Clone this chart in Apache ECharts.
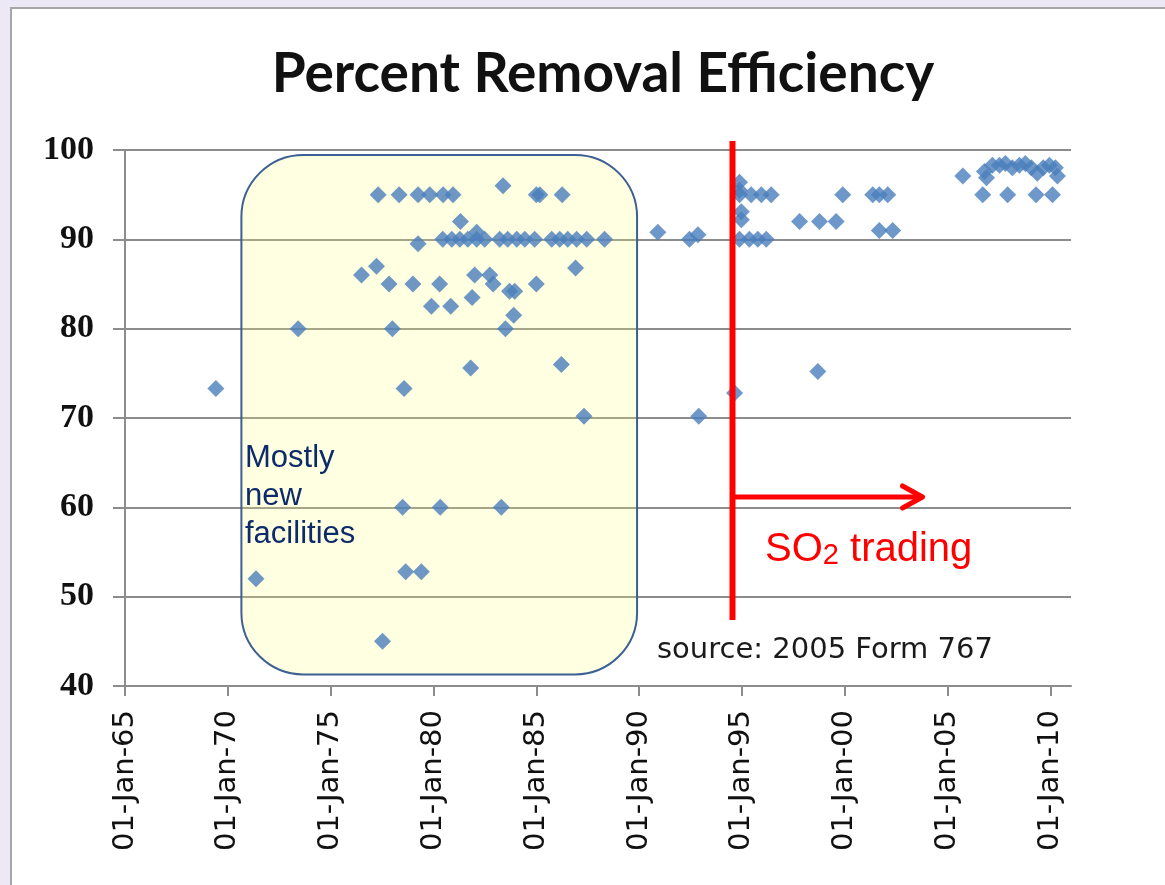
<!DOCTYPE html>
<html>
<head>
<meta charset="utf-8">
<title>Percent Removal Efficiency</title>
<script src="https://cdn.jsdelivr.net/npm/echarts@6/dist/echarts.min.js"></script>
<style>
  html, body { margin: 0; padding: 0; background: #ede8f5; }
  #main { width: 1165px; height: 885px; }
</style>
</head>
<body>
<div id="main"></div>
<script>
// install date as a decimal year, and % removal efficiency
var years = [
  1969.42, 1971.37, 1973.42, 1976.5, 1977.23, 1977.31, 1977.52, 1977.84, 1978.0, 1978.33,
  1978.5, 1978.57, 1978.65, 1979.0, 1979.25, 1979.25, 1979.41, 1979.82, 1979.9, 1980.33,
  1980.3, 1980.47, 1980.95, 1980.84, 1981.31, 1981.81, 1981.88, 1982.0, 1982.74, 1982.9,
  1983.38, 1983.3, 1983.5, 1983.7, 1983.95, 1983.9, 1985.0, 1985.17, 1985.0, 1986.26,
  1986.22, 1986.91, 1987.32,
  1980.45, 1980.89, 1981.28, 1981.67, 1982.1, 1982.49, 1983.22, 1983.61, 1984.05, 1984.44,
  1984.92, 1985.75, 1986.14, 1986.53, 1986.96, 1987.45, 1988.32, 1982.1,
  1990.91, 1992.45, 1992.86, 1992.9, 1994.64,
  1994.88, 1994.88, 1994.88, 1995.45, 1995.94, 1996.42, 1994.97, 1994.97,
  1994.88, 1995.36, 1995.77, 1996.18,
  1997.8, 1998.69, 1998.77, 1999.58, 1999.9, 2001.36, 2001.68, 2002.09, 2001.68, 2002.33,
  2005.74, 2006.71, 2007.92, 2009.3, 2010.1,
  2006.79, 2006.89, 2007.18, 2007.52, 2007.81, 2008.15, 2008.49, 2008.78, 2009.07, 2009.36,
  2009.65, 2009.95, 2010.24, 2010.34
];
var efficiency = [
  73.3, 52, 80, 86, 87, 95, 45, 85, 80, 95,
  60, 73.3, 52.8, 85, 95, 89.5, 52.8, 95, 82.5, 60,
  85, 95, 95, 82.5, 92, 75.6, 83.5, 86, 86, 85,
  96, 60, 80, 84.2, 84.2, 81.5, 95, 95, 85, 95,
  76, 86.8, 70.2,
  90, 90, 90, 90, 90, 90, 90, 90, 90, 90,
  90, 90, 90, 90, 90, 90, 90, 90.8,
  90.8, 90, 90.5, 70.2, 72.8,
  96.4, 95.5, 95, 95, 95, 95, 93.1, 92.2,
  90, 90, 90, 90,
  92, 75.2, 92, 92, 95, 95, 95, 95, 91, 91,
  97.1, 95, 95, 95, 95,
  97.6, 96.9, 98.3, 98.3, 98.5, 98, 98.3, 98.5, 98, 97.4,
  98, 98.3, 98, 97.1
];
var yearTicks = [1965, 1970, 1975, 1980, 1985, 1990, 1995, 2000, 2005, 2010];

var chart = echarts.init(document.getElementById('main'));

var points = years.map(function (y, i) { return [y, efficiency[i]]; });

var option = {
  backgroundColor: '#ede8f5',
  animation: false,
  title: {
    text: 'Percent Removal Efficiency',
    left: 598,
    textAlign: 'center',
    top: 42,
    textStyle: {
      fontFamily: 'Lato',
      fontWeight: 'bold',
      fontSize: 55,
      color: '#111'
    }
  },
  grid: {
    left: 125,
    right: 94,
    top: 150,
    bottom: 199
  },
  xAxis: {
    type: 'value',
    min: 1965,
    max: 2011,
    interval: 5,
    splitLine: { show: false },
    axisLine: { lineStyle: { color: '#8c8c8c', width: 2 } },
    axisTick: {
      length: 10,
      customValues: yearTicks,
      lineStyle: { color: '#8c8c8c', width: 2 }
    },
    axisLabel: {
      rotate: 90,
      margin: 24,
      customValues: yearTicks,
      fontFamily: 'DejaVu Sans',
      fontSize: 29,
      color: '#111',
      formatter: function (v) {
        return '01-Jan-' + String(v).slice(2);
      }
    }
  },
  yAxis: {
    type: 'value',
    min: 40,
    max: 100,
    interval: 10,
    axisLine: { show: true, lineStyle: { color: '#8c8c8c', width: 2 } },
    axisTick: { show: true, length: 12, lineStyle: { color: '#8c8c8c', width: 2 } },
    splitLine: { lineStyle: { color: '#8c8c8c', width: 2 } },
    axisLabel: {
      margin: 31,
      fontFamily: 'Liberation Serif',
      fontWeight: 'bold',
      fontSize: 34,
      color: '#111'
    }
  },
  series: [{
    type: 'scatter',
    symbol: 'diamond',
    symbolSize: 17,
    z: 5,
    itemStyle: { color: '#4a7ebb' },
    data: points
  }]
};
chart.setOption(option);

// annotations, placed in data space
function px(x, y) {
  return chart.convertToPixel({ seriesIndex: 0 }, [x, y]);
}
var boxA = px(1970.66, 99.44), boxB = px(1989.9, 41.3);
var lineTop = px(1994.54, 101), lineBot = px(1994.54, 47.4);
var arrowEnd = px(2003.78, 61.16);

chart.setOption({
  graphic: [
    {
      type: 'rect', z: -10, silent: true,
      shape: { x: 11, y: 8, width: 1180, height: 900 },
      style: { fill: '#fff', stroke: '#a6a6a6', lineWidth: 2 }
    },
    {
      type: 'rect', z: 1, silent: true,
      shape: { x: boxA[0], y: boxA[1], width: boxB[0] - boxA[0], height: boxB[1] - boxA[1], r: 62 },
      style: { fill: 'rgba(255,255,120,0.22)', stroke: '#3c5f94', lineWidth: 2 }
    },
    {
      type: 'line', z: 10, silent: true,
      shape: { x1: lineTop[0], y1: lineTop[1], x2: lineBot[0], y2: lineBot[1] },
      style: { stroke: '#ff0000', lineWidth: 6 }
    },
    {
      type: 'line', z: 10, silent: true,
      shape: { x1: lineTop[0], y1: arrowEnd[1], x2: arrowEnd[0] - 2, y2: arrowEnd[1] },
      style: { stroke: '#ff0000', lineWidth: 5 }
    },
    {
      type: 'polyline', z: 10, silent: true,
      shape: { points: [[arrowEnd[0] - 20, arrowEnd[1] - 11], [arrowEnd[0], arrowEnd[1]], [arrowEnd[0] - 20, arrowEnd[1] + 11]] },
      style: { stroke: '#ff0000', lineWidth: 5, fill: null, lineCap: 'round', lineJoin: 'round' }
    },
    {
      type: 'text', z: 11, silent: true,
      x: 765, y: 528,
      style: {
        text: '{a|SO}{b|2}{a| trading}',
        rich: {
          a: { fontFamily: 'Liberation Sans', fontSize: 40, fill: '#ff0000', verticalAlign: 'bottom', lineHeight: 42 },
          b: { fontFamily: 'Liberation Sans', fontSize: 29, fill: '#ff0000', verticalAlign: 'bottom', lineHeight: 42 }
        }
      }
    },
    {
      type: 'text', z: 11, silent: true,
      x: 245, y: 439,
      style: {
        text: 'Mostly\nnew\nfacilities',
        fontFamily: 'Liberation Sans',
        fontSize: 31,
        lineHeight: 38,
        fill: '#0d2b6b'
      }
    },
    {
      type: 'text', z: 11, silent: true,
      x: 657, y: 636,
      style: {
        text: 'source: 2005 Form 767',
        fontFamily: 'DejaVu Sans',
        fontSize: 29,
        fill: '#1a1a1a'
      }
    }
  ]
});
</script>
</body>
</html>
